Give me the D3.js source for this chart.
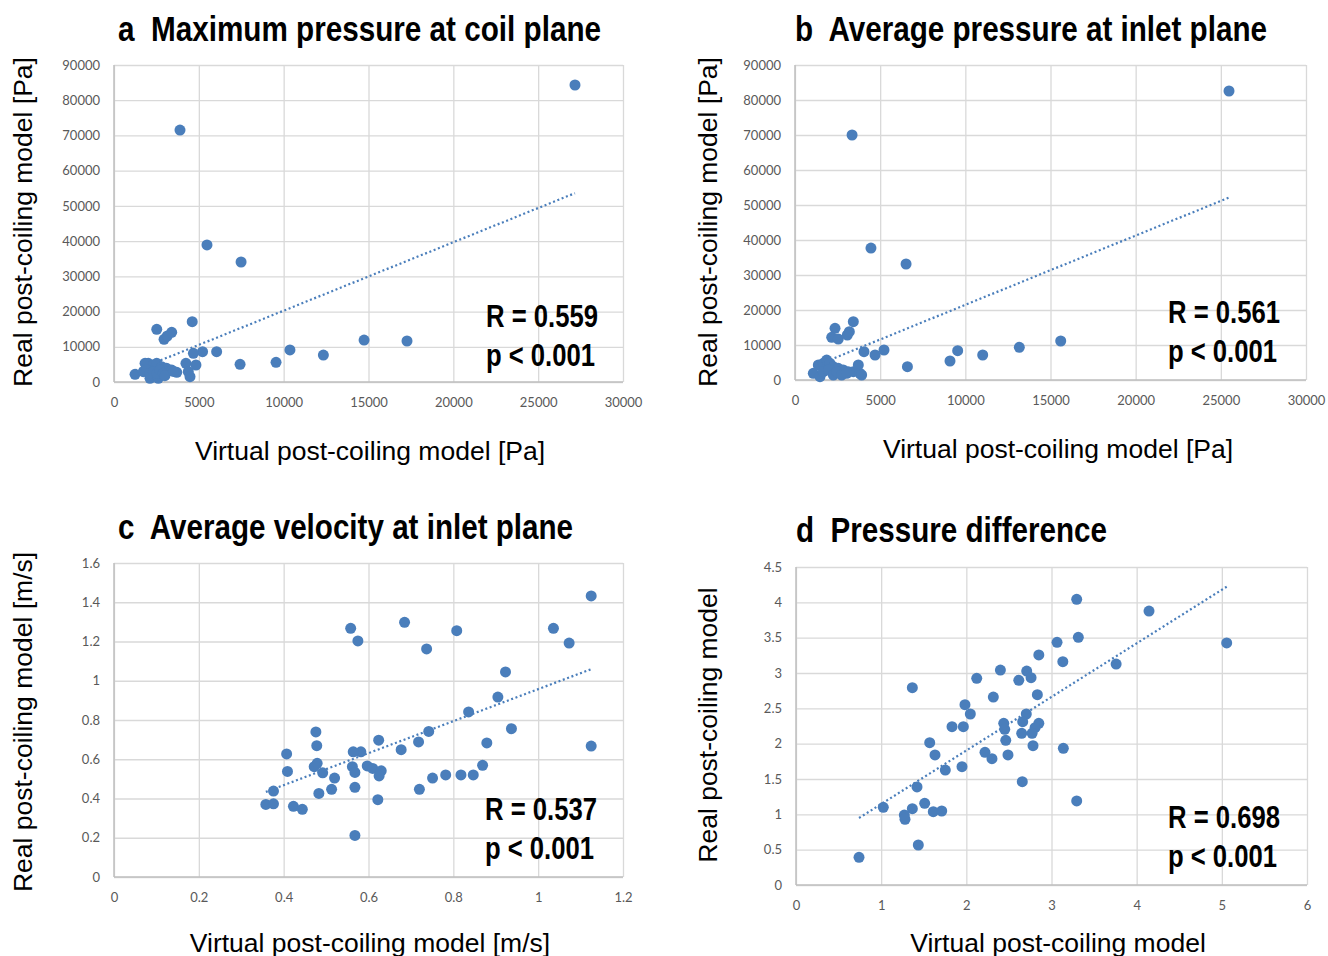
<!DOCTYPE html>
<html>
<head>
<meta charset="utf-8">
<script src="https://cdn.jsdelivr.net/npm/d3@7"></script>
<style>
  body { margin: 0; background: #fff; }
  .tick text { font-family: Lato, "Open Sans", sans-serif; font-size: 13px; fill: #595959; }
  .grid line { stroke: #d9d9d9; stroke-width: 1.3; }
  .panel-title { font-family: "Liberation Sans", Arial, sans-serif; font-weight: bold; font-size: 35px; fill: #000; white-space: pre; }
  .stat { font-family: "Liberation Sans", Arial, sans-serif; font-weight: bold; font-size: 31px; fill: #000; }
  .axis-title { font-family: "Liberation Sans", Arial, sans-serif; font-size: 26.5px; fill: #000; }
</style>
</head>
<body>
<svg id="chart" width="1328" height="956"></svg>
<script>
// a: maximum pressure at coil plane [Pa]
const maxPressVirtual = [3890, 5480, 7490, 27170, 17270, 14740, 12340, 10370, 9550, 7430, 6050, 5220, 4680, 4240, 4830, 4380, 4480, 4610, 2520, 2950, 3140, 3400,
  1240, 1830, 2020, 2120, 2610, 2320, 2520, 2810, 3100, 3400, 3700, 1730, 1920, 2120, 2320, 2520, 2710, 2900, 3000, 3500];
const maxPressReal = [71540, 38900, 34070, 84320, 11640, 11920, 7660, 9090, 5590, 5020, 8600, 8600, 8150, 5300, 4830, 2920, 1500, 17120, 14960, 12120, 13060, 14110,
  2180, 5300, 5300, 1040, 1040, 4830, 5300, 4340, 3890, 3400, 2750, 2920, 3400, 2470, 2920, 2470, 3400, 2470, 1800, 3000];

// b: average pressure at inlet plane [Pa]
const avgPressVirtual = [3350, 4460, 6520, 25480, 15600, 13170, 11020, 9550, 9100, 6600, 5225, 4700, 4050, 3424, 2350, 2155, 2540, 3072, 3190,
  1075, 1468, 1370, 1663, 1860, 2055, 2250, 2540, 2835, 3130, 3424, 3717, 3815, 1663, 1956, 2250, 2447, 2740, 3033, 3913];
const avgPressReal = [70000, 37710, 33140, 82570, 11140, 9340, 7140, 8370, 5430, 3800, 8570, 7140, 8090, 16660, 14770, 12200, 11710, 12860, 13800,
  1910, 950, 4290, 4770, 5710, 4770, 3800, 3340, 2860, 2370, 2370, 4290, 1910, 2370, 2860, 1430, 2370, 1430, 1910, 1430];

// c: average velocity at inlet plane [m/s]
const velVirtual = [1.125, 0.558, 0.575, 0.685, 0.737, 0.808, 1.036, 1.073, 0.923, 0.905, 0.836, 0.937, 1.125, 0.879, 0.869,
  0.847, 0.818, 0.782, 0.751, 0.720, 0.742, 0.718, 0.677, 0.624, 0.582, 0.564, 0.597, 0.610, 0.630, 0.625, 0.562, 0.568,
  0.568, 0.622, 0.568, 0.520, 0.513, 0.483, 0.492, 0.472, 0.479, 0.476, 0.478, 0.407, 0.409, 0.376, 0.358, 0.376, 0.423, 0.444];
const velReal = [1.432, 1.267, 1.203, 1.298, 1.162, 1.255, 1.267, 1.192, 1.045, 0.917, 0.841, 0.756, 0.667, 0.683, 0.569,
  0.520, 0.520, 0.520, 0.504, 0.447, 0.742, 0.688, 0.649, 0.697, 0.638, 0.638, 0.566, 0.553, 0.541, 0.515, 0.562, 0.533,
  0.457, 0.394, 0.212, 0.504, 0.447, 0.426, 0.531, 0.562, 0.579, 0.739, 0.669, 0.627, 0.538, 0.438, 0.370, 0.373, 0.360, 0.345];

// d: pressure difference
const diffVirtual = [3.296, 4.145, 5.057, 3.315, 3.065, 3.133, 3.759, 2.851, 2.400, 2.709, 2.760, 2.616, 2.122, 1.366, 2.317, 2.834,
  1.984, 2.047, 2.704, 2.662, 2.851, 2.807, 2.772, 2.439, 2.451, 2.650, 1.832, 1.965, 2.463, 2.783, 3.139, 1.570, 1.632, 2.219,
  2.301, 2.489, 1.753, 1.949, 2.657, 3.296, 1.421, 1.025, 1.366, 1.511, 1.612, 1.711, 1.272, 1.280, 1.436, 0.740];
const diffReal = [4.043, 3.877, 3.425, 3.505, 3.434, 3.160, 3.127, 3.255, 3.042, 3.028, 2.934, 2.897, 2.925, 2.792, 2.660, 2.693,
  2.551, 2.420, 2.420, 2.311, 2.288, 2.226, 2.147, 2.288, 2.203, 2.147, 2.240, 2.240, 2.048, 1.971, 1.934, 2.014, 1.840, 1.878,
  1.787, 1.840, 1.627, 1.674, 1.462, 1.189, 1.387, 1.099, 1.080, 1.156, 1.037, 1.047, 0.990, 0.929, 0.566, 0.392];

// tick labels
const pressXTicks = [0, 5000, 10000, 15000, 20000, 25000, 30000];
const pressYTicks = [0, 10000, 20000, 30000, 40000, 50000, 60000, 70000, 80000, 90000];
const velXTicks = [0, 0.2, 0.4, 0.6, 0.8, 1, 1.2];
const velYTicks = [0, 0.2, 0.4, 0.6, 0.8, 1, 1.2, 1.4, 1.6];
const diffXTicks = [0, 1, 2, 3, 4, 5, 6];
const diffYTicks = [0, 0.5, 1, 1.5, 2, 2.5, 3, 3.5, 4, 4.5];

const panels = [
  { xs: maxPressVirtual, ys: maxPressReal, xt: pressXTicks, yt: pressYTicks,
    left: 114, top: 65, w: 509, h: 317,
    title: "a  Maximum pressure at coil plane", tx: 118, ty: 41, tw: 483,
    xTitle: "Virtual post-coiling model [Pa]", xtx: 370, xty: 460,
    yTitle: "Real post-coiling model [Pa]", ytx: 32, yty: 222,
    r: "R = 0.559", sx: 486, sy: 327 },
  { xs: avgPressVirtual, ys: avgPressReal, xt: pressXTicks, yt: pressYTicks,
    left: 795, top: 65, w: 511, h: 315,
    title: "b  Average pressure at inlet plane", tx: 795, ty: 41, tw: 472,
    xTitle: "Virtual post-coiling model [Pa]", xtx: 1058, xty: 458,
    yTitle: "Real post-coiling model [Pa]", ytx: 717, yty: 222,
    r: "R = 0.561", sx: 1168, sy: 323 },
  { xs: velVirtual, ys: velReal, xt: velXTicks, yt: velYTicks,
    left: 114, top: 563, w: 509, h: 314,
    title: "c  Average velocity at inlet plane", tx: 118, ty: 539, tw: 455,
    xTitle: "Virtual post-coiling model [m/s]", xtx: 370, xty: 952,
    yTitle: "Real post-coiling model [m/s]", ytx: 32, yty: 722,
    r: "R = 0.537", sx: 485, sy: 820 },
  { xs: diffVirtual, ys: diffReal, xt: diffXTicks, yt: diffYTicks,
    left: 796, top: 567, w: 511, h: 318,
    title: "d  Pressure difference", tx: 796, ty: 542, tw: 311,
    xTitle: "Virtual post-coiling model", xtx: 1058, xty: 952,
    yTitle: "Real post-coiling model", ytx: 717, yty: 725,
    r: "R = 0.698", sx: 1168, sy: 828 }
];

const svg = d3.select("#chart");
const dotColor = "#4a7ebb";

panels.forEach(function (p) {
  const x = d3.scaleLinear().domain([0, d3.max(p.xt)]).range([0, p.w]);
  const y = d3.scaleLinear().domain([0, d3.max(p.yt)]).range([p.h, 0]);

  const g = svg.append("g").attr("transform", "translate(" + p.left + "," + p.top + ")");

  // gridlines
  g.append("g").attr("class", "grid")
    .call(d3.axisLeft(y).tickValues(p.yt).tickSize(-p.w).tickFormat(""))
    .call(s => s.select(".domain").remove());
  g.append("g").attr("class", "grid")
    .attr("transform", "translate(0," + p.h + ")")
    .call(d3.axisBottom(x).tickValues(p.xt).tickSize(-p.h).tickFormat(""))
    .call(s => s.select(".domain").remove());

  // axis lines
  g.append("line").attr("x1", 0).attr("x2", 0).attr("y1", 0).attr("y2", p.h)
    .attr("stroke", "#bfbfbf").attr("stroke-width", 1.5);
  g.append("line").attr("x1", 0).attr("x2", p.w).attr("y1", p.h).attr("y2", p.h)
    .attr("stroke", "#bfbfbf").attr("stroke-width", 1.5);

  // tick labels
  g.append("g")
    .call(d3.axisLeft(y).tickValues(p.yt).tickSize(0).tickPadding(14).tickFormat(d => String(d)))
    .call(s => s.select(".domain").remove());
  g.append("g").attr("transform", "translate(0," + p.h + ")")
    .call(d3.axisBottom(x).tickValues(p.xt).tickSize(0).tickPadding(16).tickFormat(d => String(d)))
    .call(s => s.select(".domain").remove());

  // linear trend
  const mx = d3.mean(p.xs), my = d3.mean(p.ys);
  let sxy = 0, sxx = 0;
  p.xs.forEach(function (v, i) { sxy += (v - mx) * (p.ys[i] - my); sxx += (v - mx) * (v - mx); });
  const slope = sxy / sxx, icpt = my - slope * mx;
  const ext = d3.extent(p.xs);
  g.append("line")
    .attr("x1", x(ext[0])).attr("y1", y(icpt + slope * ext[0]))
    .attr("x2", x(ext[1])).attr("y2", y(icpt + slope * ext[1]))
    .attr("stroke", dotColor).attr("stroke-width", 2.2)
    .attr("stroke-dasharray", "2,2.6");

  // points
  g.selectAll("circle")
    .data(p.xs.map((v, i) => [v, p.ys[i]]))
    .enter().append("circle")
    .attr("cx", d => x(d[0]))
    .attr("cy", d => y(d[1]))
    .attr("r", 5.5)
    .attr("fill", dotColor);

  // texts (narrow bold look: squeeze to the reference widths)
  svg.append("text").attr("class", "panel-title").attr("x", p.tx).attr("y", p.ty)
    .attr("textLength", p.tw).attr("lengthAdjust", "spacingAndGlyphs").text(p.title);
  svg.append("text").attr("class", "axis-title").attr("x", p.xtx).attr("y", p.xty)
    .attr("text-anchor", "middle").text(p.xTitle);
  svg.append("text").attr("class", "axis-title")
    .attr("transform", "translate(" + p.ytx + "," + p.yty + ") rotate(-90)")
    .attr("text-anchor", "middle").text(p.yTitle);
  svg.append("text").attr("class", "stat").attr("x", p.sx).attr("y", p.sy)
    .attr("textLength", 112).attr("lengthAdjust", "spacingAndGlyphs").text(p.r);
  svg.append("text").attr("class", "stat").attr("x", p.sx).attr("y", p.sy + 39)
    .attr("textLength", 109).attr("lengthAdjust", "spacingAndGlyphs").text("p < 0.001");
});
</script>
</body>
</html>
